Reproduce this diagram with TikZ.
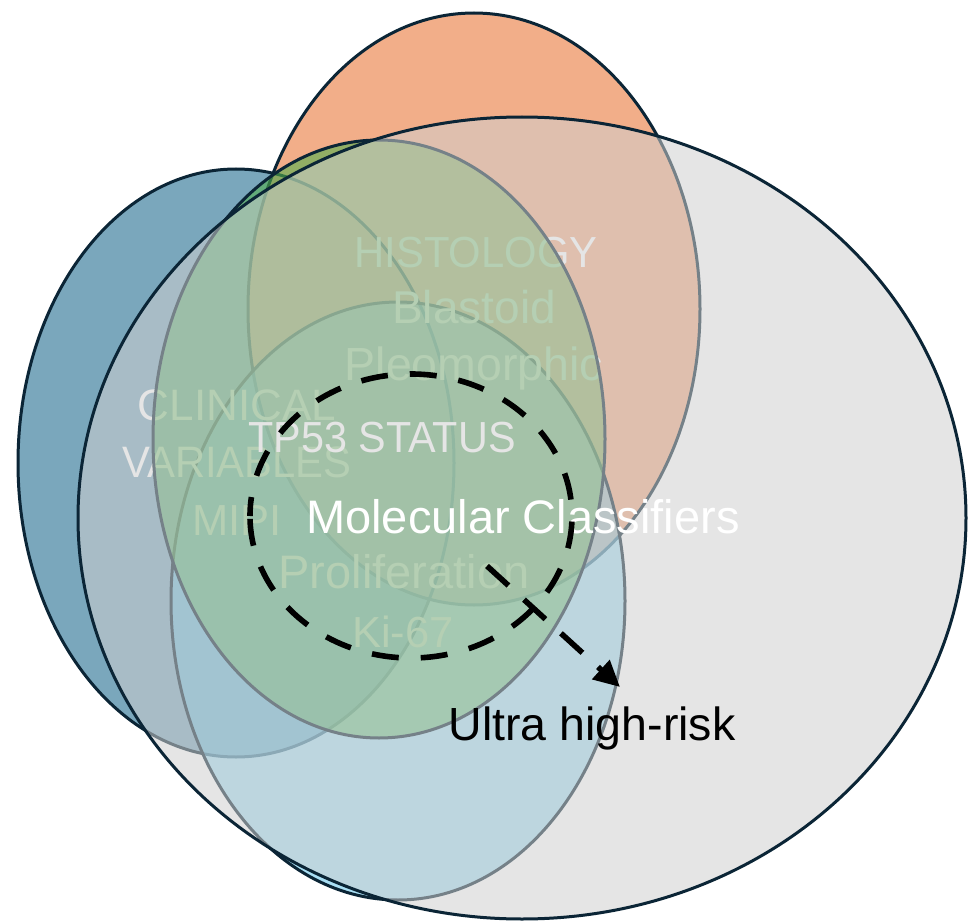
\documentclass[tikz,border=0pt]{standalone}
\usepackage{fontspec}
\setmainfont{Liberation Sans}
\usetikzlibrary{arrows.meta}
\definecolor{outl}{HTML}{0B2536}
\definecolor{orng}{HTML}{F0A075}
\definecolor{bluE}{HTML}{7AA7BC}
\definecolor{ltblue}{HTML}{64C6EB}
\definecolor{grn}{HTML}{52AF4E}
\definecolor{gry}{HTML}{CFCFCF}
\newcommand\tsz[1]{\fontsize{#1pt}{#1pt}\selectfont}
\begin{document}
\begin{tikzpicture}[x=1pt,y=-1pt,
  outline/.style={draw=outl,line width=3pt},
  ftxt/.style={text=white,inner sep=0pt,anchor=base},
  dashring/.style={draw=black,line width=5.6pt,dash pattern=on 27pt off 22pt,dash phase=8pt},
  dasharrow/.style={draw=black,line width=5.6pt,dash pattern=on 29pt off 21pt,-{Triangle[length=26pt,width=25pt]}}]
\useasboundingbox (0,0) rectangle (975,923);
\fill[white] (0,0) rectangle (975,923);
% base ellipses
\fill[bluE] (236,463) ellipse[x radius=218pt,y radius=294pt];
\fill[orng,fill opacity=.85] (474,309) ellipse[x radius=226pt,y radius=296pt];
\draw[outline] (236,463) ellipse[x radius=218pt,y radius=294pt];
\draw[outline] (474,309) ellipse[x radius=226pt,y radius=296pt];
% light blue
\path[outline,fill=ltblue,fill opacity=.55] (398,601) ellipse[x radius=227pt,y radius=299pt];
% faint texts
\node[ftxt,font=\tsz{43.5}] (histo) at (476,267) {\scalebox{0.96}[1]{HISTOLOGY}};
\node[ftxt,font=\tsz{46}] (blast) at (474,323) {Blastoid};
\node[ftxt,font=\tsz{46.5}] (pleo) at (474,380) {Pleomorphic};
\node[ftxt,font=\tsz{44}] (clin) at (237,420) {CLINICAL};
\node[ftxt,font=\tsz{44}] (vari) at (237,477) {\scalebox{0.95}[1]{VARIABLES}};
\node[ftxt,font=\tsz{43.5}] (mipi) at (237,535) {MIPI};
\node[ftxt,font=\tsz{47}] (prol) at (404,588) {Proliferation};
\node[ftxt,font=\tsz{43.5}] (ki) at (403,647) {Ki-67};
% green
\path[outline,fill=grn,fill opacity=.6] (379,439) ellipse[x radius=226pt,y radius=299pt];
\node[ftxt,font=\tsz{43.5}] (tp53) at (382,452) {\scalebox{0.95}[1]{TP53 STATUS}};
% grey
\path[outline,fill=gry,fill opacity=.54] (522,518) ellipse[x radius=444pt,y radius=401pt];
\node[ftxt,font=\tsz{47}] (mol) at (523,533) {Molecular Classifiers};
% dashed ring and arrow
\draw[dashring] (250,516) arc[start angle=180,end angle=-180,x radius=161pt,y radius=142pt];
\coordinate (astart) at (487,566);
\coordinate (atip) at (620,687);
\draw[dasharrow] (astart) -- (atip);
\node[ftxt,text=black,font=\tsz{46.5}] (risk) at (592,740) {Ultra high-risk};
\end{tikzpicture}
\end{document}
